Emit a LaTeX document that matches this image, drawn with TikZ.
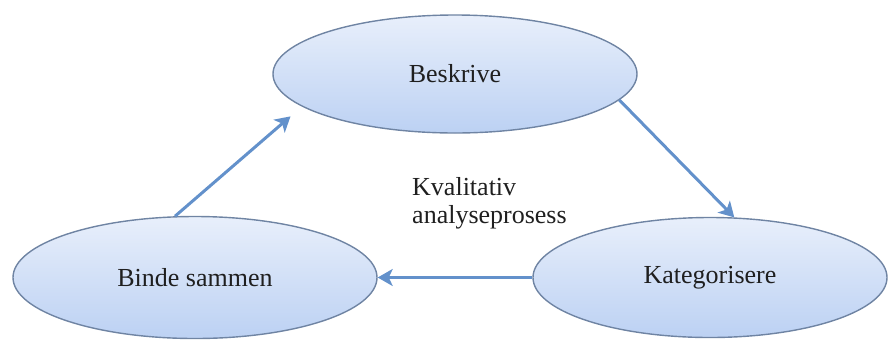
\documentclass[tikz,border=0pt]{standalone}
\usepackage{fontspec}
\setmainfont{Liberation Serif}
\usetikzlibrary{shapes.geometric,arrows.meta}
\definecolor{stagetop}{HTML}{E8EFFB}
\definecolor{stagebottom}{HTML}{BCD1F3}
\definecolor{stageline}{HTML}{6F84A3}
\definecolor{flowblue}{HTML}{6391CB}
\begin{document}
\begin{tikzpicture}[x=1pt,y=-1pt]
                        \tikzset{Stage/.style={%
                                shape=ellipse,%
                                draw=stageline,%
                                line width=1.4pt,%
                                top color=stagetop,%
                                bottom color=stagebottom,%
                                inner sep=0pt,%
                                text=black!88,%
                                font=\fontsize{26}{28}\selectfont,%
                            },
                            Flow/.style={%
                                draw=flowblue,%
                                line width=3pt,%
                                -{Stealth[length=15pt,width=17pt,inset=4pt]},%
                            }}

                            \useasboundingbox (0,0) rectangle (888,341);

                            \node[Stage, minimum width=364pt, minimum height=118pt] (1) at (455,74) {Beskrive};
                            \node[Stage, minimum width=354pt, minimum height=120pt] (2) at (710,277.5) {Kategorisere};
                            \node[Stage, minimum width=364pt, minimum height=122pt] (3) at (195,277.5) {Binde sammen};
                            \node[anchor=north west, inner sep=0pt, align=left, text=black!88,
                                  font=\fontsize{26}{28}\selectfont] (L) at (412,177) {Kvalitativ\\analyseprosess};

                            \path (1.351) edge[Flow] (2.68);
                            \path (2.west) edge[Flow] (3.east);
                            \path (3.108) edge[Flow, shorten >=15pt] (1.192);
\end{tikzpicture}
\end{document}
